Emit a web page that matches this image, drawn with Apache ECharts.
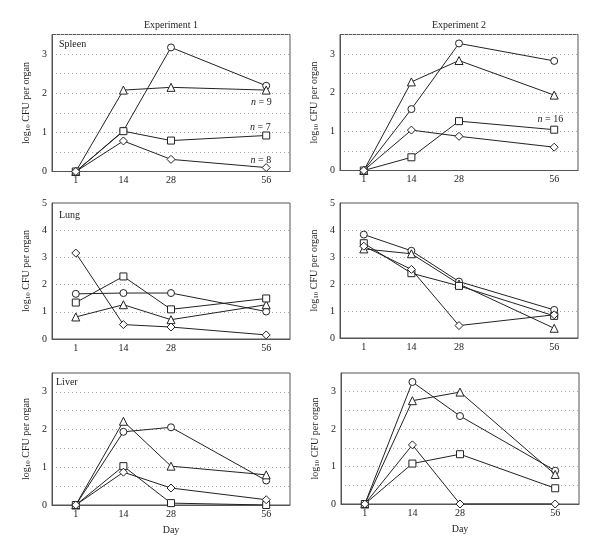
<!DOCTYPE html>
<html><head><meta charset="utf-8">
<script src="https://cdn.jsdelivr.net/npm/echarts@6/dist/echarts.min.js"></script>
<style>html,body{margin:0;padding:0;background:#fff}#c{width:600px;height:554px}</style>
</head><body><div id="c"></div>
<script>
// ---- data ----
const dayPositions = [0, 14, 28, 56];
const dayLabels = ['1', '14', '28', '56'];
const yTicksSpleenLiver = [0, 1, 2, 3];
const yTicksLung = [0, 1, 2, 3, 4, 5];

// Experiment 1 - Spleen
const e1SpleenCircle   = [0, 1.04, 3.17, 2.19];
const e1SpleenTriangle = [0, 2.08, 2.15, 2.08];
const e1SpleenSquare   = [0, 1.03, 0.79, 0.92];
const e1SpleenDiamond  = [0, 0.78, 0.31, 0.10];
// Experiment 2 - Spleen
const e2SpleenCircle   = [0, 1.58, 3.27, 2.82];
const e2SpleenTriangle = [0, 2.28, 2.83, 1.94];
const e2SpleenSquare   = [0, 0.34, 1.27, 1.05];
const e2SpleenDiamond  = [0, 1.04, 0.88, 0.60];
// Experiment 1 - Lung
const e1LungCircle   = [1.66, 1.69, 1.69, 1.01];
const e1LungTriangle = [0.81, 1.26, 0.71, 1.26];
const e1LungSquare   = [1.34, 2.30, 1.09, 1.49];
const e1LungDiamond  = [3.16, 0.53, 0.44, 0.15];
// Experiment 2 - Lung
const e2LungCircle   = [3.83, 3.23, 2.09, 1.04];
const e2LungTriangle = [3.30, 3.12, 2.00, 0.36];
const e2LungSquare   = [3.51, 2.40, 1.93, 0.82];
const e2LungDiamond  = [3.40, 2.54, 0.46, 0.86];
// Experiment 1 - Liver
const e1LiverCircle   = [0, 1.94, 2.06, 0.65];
const e1LiverTriangle = [0, 2.22, 1.03, 0.80];
const e1LiverSquare   = [0, 1.03, 0.05, 0];
const e1LiverDiamond  = [0, 0.87, 0.45, 0.14];
// Experiment 2 - Liver
const e2LiverCircle   = [0, 3.26, 2.35, 0.89];
const e2LiverTriangle = [0, 2.76, 2.99, 0.79];
const e2LiverSquare   = [0, 1.08, 1.33, 0.42];
const e2LiverDiamond  = [0, 1.58, 0, 0];

const panelTitles = ['Experiment 1', 'Experiment 2'];
const organLabels = ['Spleen', 'Lung', 'Liver'];
const nLabels = ['n = 9', 'n = 7', 'n = 8', 'n = 16'];
const xAxisTitle = 'Day';

// ---- layout ----
const FONT = '"Liberation Serif", "DejaVu Serif", serif';
const TXT = '#222';
const panels = [
  {left: 52,  top: 34.5, w: 238, h: 137, max: 3.5, interval: 0.5, ticks: yTicksSpleenLiver,
   s: [e1SpleenCircle, e1SpleenTriangle, e1SpleenSquare, e1SpleenDiamond]},
  {left: 340, top: 34.5, w: 238, h: 136, max: 3.5, interval: 0.5, ticks: yTicksSpleenLiver,
   s: [e2SpleenCircle, e2SpleenTriangle, e2SpleenSquare, e2SpleenDiamond]},
  {left: 52,  top: 203, w: 238, h: 136, max: 5, interval: 1, ticks: yTicksLung,
   s: [e1LungCircle, e1LungTriangle, e1LungSquare, e1LungDiamond]},
  {left: 340, top: 203, w: 238, h: 135, max: 5, interval: 1, ticks: yTicksLung,
   s: [e2LungCircle, e2LungTriangle, e2LungSquare, e2LungDiamond]},
  {left: 52,  top: 373, w: 238, h: 132, max: 3.5, interval: 0.5, ticks: yTicksSpleenLiver, day: true,
   s: [e1LiverCircle, e1LiverTriangle, e1LiverSquare, e1LiverDiamond]},
  {left: 341, top: 373, w: 238, h: 131, max: 3.5, interval: 0.5, ticks: yTicksSpleenLiver, day: true,
   s: [e2LiverCircle, e2LiverTriangle, e2LiverSquare, e2LiverDiamond]}
];
const symbols = ['circle', 'triangle', 'rect', 'diamond'];
const symSizes = [7, 8, 7, 8];

const grid = [], xAxis = [], yAxis = [], series = [];
panels.forEach((p, i) => {
  grid.push({left: p.left, top: p.top, width: p.w, height: p.h, show: true,
    borderColor: '#555', borderWidth: 1, backgroundColor: 'transparent'});
  xAxis.push({type: 'value', gridIndex: i, min: -7, max: 63,
    axisLine: {show: true, onZero: false, lineStyle: {color: '#555'}}, axisTick: {show: false},
    splitLine: {show: false},
    axisLabel: {customValues: dayPositions, margin: 4, fontFamily: FONT, fontSize: 10, color: TXT,
      formatter: v => dayLabels[dayPositions.indexOf(v)]},
    name: p.day ? xAxisTitle : '', nameLocation: 'middle', nameGap: 20,
    nameTextStyle: {fontFamily: FONT, fontSize: 10, color: TXT}});
  yAxis.push({type: 'value', gridIndex: i, min: 0, max: p.max, interval: p.interval,
    axisLine: {show: true, onZero: false, lineStyle: {color: '#555'}}, axisTick: {show: false},
    splitLine: {show: true, lineStyle: {color: '#aaa', type: [1, 3], width: 1}},
    axisLabel: {margin: 5, fontFamily: FONT, fontSize: 10, color: TXT,
      formatter: v => p.ticks.includes(v) ? String(v) : ''},
    name: '{a|log}{s|10}{a| CFU per organ}', nameLocation: 'middle', nameGap: 20, nameRotate: 90,
    nameTextStyle: {fontFamily: FONT, fontSize: 10, color: TXT,
      rich: {a: {fontFamily: FONT, fontSize: 10, color: TXT, verticalAlign: 'middle'},
             s: {fontFamily: FONT, fontSize: 7, color: TXT, verticalAlign: 'bottom', padding: [5, 0, 0, 0]}}}});
  p.s.forEach((vals, k) => {
    series.push({type: 'line', xAxisIndex: i, yAxisIndex: i,
      data: vals.map((v, j) => [dayPositions[j], v]),
      symbol: symbols[k], symbolSize: symSizes[k], showAllSymbol: true,
      lineStyle: {color: '#222', width: 1},
      itemStyle: {color: '#fff', borderColor: '#222', borderWidth: 1},
      z: 3 + k, animation: false, silent: true});
  });
});

function txt(x, y, t, align, rich) {
  return {type: 'text', x: x, y: y, silent: true,
    style: {text: t, fontFamily: FONT, fontSize: 10, fill: TXT, align: align || 'left',
      verticalAlign: 'middle', rich: rich}};
}
const nRich = {i: {fontFamily: FONT, fontSize: 10, fontStyle: 'italic', fill: TXT, color: TXT},
               r: {fontFamily: FONT, fontSize: 10, fill: TXT, color: TXT}};
const nText = s => '{i|n}{r|' + s.slice(1) + '}';
const graphic = [
  txt(171, 25, panelTitles[0], 'center'),
  txt(459, 25, panelTitles[1], 'center'),
  txt(59, 44.5, organLabels[0]),
  txt(59, 215.5, organLabels[1]),
  txt(56, 382.5, organLabels[2]),
  txt(251, 102.5, nText(nLabels[0]), 'left', nRich),
  txt(250, 127.5, nText(nLabels[1]), 'left', nRich),
  txt(250.5, 160.5, nText(nLabels[2]), 'left', nRich),
  txt(537.5, 119.5, nText(nLabels[3]), 'left', nRich)
];

const chart = echarts.init(document.getElementById('c'), null, {renderer: 'canvas'});
chart.setOption({animation: false, grid, xAxis, yAxis, series, graphic});
</script></body></html>
